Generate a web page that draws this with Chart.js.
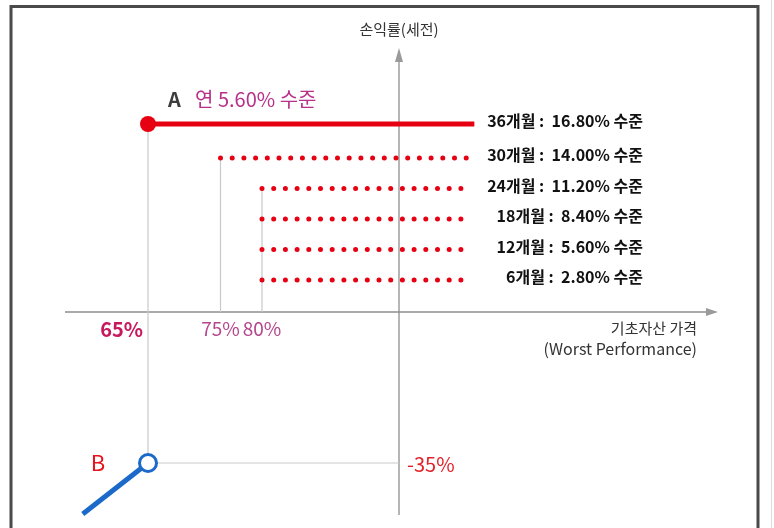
<!DOCTYPE html>
<html>
<head>
<meta charset="utf-8">
<script src="https://cdn.jsdelivr.net/npm/chart.js@4.4.1/dist/chart.umd.min.js"></script>
<style>
  html, body { margin: 0; padding: 0; background: #fff; }
  #wrap { position: relative; width: 774px; height: 528px; }
</style>
</head>
<body>
<div id="wrap"><canvas id="c"></canvas></div>
<script>
// ---------------- data ----------------
const periods       = ['36개월', '30개월', '24개월', '18개월', '12개월', '6개월'];
const couponRates   = [16.80, 14.00, 11.20, 8.40, 5.60, 2.80];   // 손익률(%) at each redemption
const barrierPrices = [65, 75, 80, 80, 80, 80];                   // 기초자산 가격(%) where each line starts
const lineEndPrices = [111, 110.2, 110.2, 110.2, 110.2, 110.2];
const annualRate    = 5.60;
const lossPrices    = [56, 65];    // B: 손실 구간 (기초자산 가격)
const lossReturns   = [-44, -35];  // B: 손익률
const priceTicks    = [65, 75, 80];
const lossLabel     = -35;
const basePrice     = 100;

// ---------------- schematic (piecewise) scale ----------------
const W = 774, H = 528;
const KNOTS = {
  x: { values: [65, 75, 80, 100], dec: [148, 220.5, 262, 399].map(p => p / W) },
  y: { values: [-44, -35, 0, 2.8, 14, 16.8], dec: [514, 463, 312, 280, 158, 124].map(p => 1 - p / H) }
};
function interp(v, xs, ys) {
  let i = 1;
  while (i < xs.length - 1 && v > xs[i]) i++;
  const t = (v - xs[i - 1]) / (xs[i] - xs[i - 1]);
  return ys[i - 1] + t * (ys[i] - ys[i - 1]);
}
class PiecewiseScale extends Chart.LinearScale {
  getPixelForValue(value) {
    const k = KNOTS[this.axis];
    return this.getPixelForDecimal(interp(value, k.values, k.dec));
  }
  getValueForPixel(pixel) {
    const k = KNOTS[this.axis];
    return interp(this.getDecimalForPixel(pixel), k.dec, k.values);
  }
}
PiecewiseScale.id = 'piecewise';
PiecewiseScale.defaults = Chart.LinearScale.defaults;
Chart.register(PiecewiseScale);

// ---------------- datasets ----------------
const RED = '#e60012', BLUE = '#1b6ac9', GUIDE = '#c9c9c9';
const datasets = [];

// A: 36개월 solid line with marker
datasets.push({
  data: [{ x: barrierPrices[0], y: couponRates[0] }, { x: lineEndPrices[0], y: couponRates[0] }],
  borderColor: RED, borderWidth: 5, borderCapStyle: 'butt',
  pointRadius: [8, 0], pointBackgroundColor: RED, pointBorderColor: RED, pointBorderWidth: 0
});
// B: loss line with hollow marker
datasets.push({
  data: lossPrices.map((p, i) => ({ x: p, y: lossReturns[i] })),
  borderColor: BLUE, borderWidth: 5, borderCapStyle: 'butt',
  pointRadius: [0, 8.5], pointBackgroundColor: '#fff', pointBorderColor: BLUE, pointBorderWidth: 3
});
// dotted early-redemption lines
for (let i = 1; i < periods.length; i++) {
  datasets.push({
    data: [{ x: barrierPrices[i], y: couponRates[i] }, { x: lineEndPrices[i], y: couponRates[i] }],
    borderColor: RED, borderWidth: 5, borderDash: [0, 11.7], borderCapStyle: 'round',
    pointRadius: 0
  });
}
// guides
datasets.push({
  data: [{ x: barrierPrices[0], y: couponRates[0] }, { x: lossPrices[1], y: lossReturns[1] }],
  borderColor: GUIDE, borderWidth: 1.2, pointRadius: 0
});
datasets.push({
  data: [{ x: lossPrices[1], y: lossReturns[1] }, { x: basePrice, y: lossReturns[1] }],
  borderColor: GUIDE, borderWidth: 1.2, pointRadius: 0
});
[1, 2].forEach(i => datasets.push({
  data: [{ x: barrierPrices[i], y: couponRates[i] }, { x: barrierPrices[i], y: 0 }],
  borderColor: GUIDE, borderWidth: 1.2, pointRadius: 0
}));

// ---------------- plugins ----------------
const FONT = '"Noto Sans CJK KR", "Noto Sans", sans-serif';
const framePlugin = {
  id: 'frame',
  beforeDraw(chart) {
    const c = chart.ctx;
    c.save();
    c.strokeStyle = '#4a4a4a'; c.lineWidth = 3;
    c.beginPath(); c.moveTo(11, H); c.lineTo(11, 6.5); c.lineTo(758, 6.5); c.lineTo(758, H); c.stroke();
    c.strokeStyle = '#dcdcdc'; c.lineWidth = 1;
    c.beginPath(); c.moveTo(771.5, 0); c.lineTo(771.5, H); c.stroke();
    c.restore();
  },
  beforeDatasetsDraw(chart) {
    const c = chart.ctx, X = v => chart.scales.x.getPixelForValue(v), Y = v => chart.scales.y.getPixelForValue(v);
    const y0 = Y(0), x0 = X(basePrice);
    c.save();
    c.strokeStyle = '#8e8e8e'; c.fillStyle = '#9a9a9a'; c.lineWidth = 1.3;
    c.beginPath(); c.moveTo(65, y0); c.lineTo(708, y0); c.stroke();
    c.beginPath(); c.moveTo(718, y0); c.lineTo(706, y0 - 4); c.lineTo(706, y0 + 4); c.closePath(); c.fill();
    c.beginPath(); c.moveTo(x0, 515); c.lineTo(x0, 60); c.stroke();
    c.beginPath(); c.moveTo(x0, 48); c.lineTo(x0 - 4, 62); c.lineTo(x0 + 4, 62); c.closePath(); c.fill();
    c.restore();
  },
  afterDatasetsDraw(chart) {
    const c = chart.ctx, X = v => chart.scales.x.getPixelForValue(v), Y = v => chart.scales.y.getPixelForValue(v);
    const txt = (s, x, y, font, color, align) => {
      c.font = font; c.fillStyle = color; c.textAlign = align || 'left'; c.textBaseline = 'middle';
      c.fillText(s, x, y);
    };
    c.save();
    txt('손익률(세전)', X(basePrice), 29, '15px ' + FONT, '#333', 'center');
    const aY = Y(couponRates[0]) - 25;
    txt('A', X(barrierPrices[0]) + 20, aY, 'bold 20px ' + FONT, '#3c3c3c');
    txt('연 ' + annualRate.toFixed(2) + '% 수준', 195, aY, '20px ' + FONT, '#b8308a');
    periods.forEach((p, i) => {
      txt(p + ' :  ' + couponRates[i].toFixed(2) + '% 수준', 643, Y(couponRates[i]) - 3,
          'bold 16px ' + FONT, '#111', 'right');
    });
    const ty = Y(0) + 17;
    txt(priceTicks[0] + '%', X(priceTicks[0]) - 5, ty, 'bold 20px ' + FONT, '#c8175d', 'right');
    txt(priceTicks[1] + '%', X(priceTicks[1]), ty, '19px ' + FONT, '#b5468c', 'center');
    txt(priceTicks[2] + '%', X(priceTicks[2]), ty, '19px ' + FONT, '#b5468c', 'center');
    txt('기초자산 가격', 697, ty - 1, '15px ' + FONT, '#333', 'right');
    txt('(Worst Performance)', 697, ty + 20, '16px ' + FONT, '#333', 'right');
    txt('B', X(lossPrices[1]) - 50, Y(lossReturns[1]), '22px ' + FONT, '#e8141c', 'center');
    txt(lossLabel + '%', X(basePrice) + 8, Y(lossLabel) + 1, '20px ' + FONT, '#e2232b', 'left');
    c.restore();
  }
};

new Chart(document.getElementById('c'), {
  type: 'line',
  data: { datasets },
  options: {
    responsive: true, maintainAspectRatio: false, animation: false, events: [],
    layout: { padding: 0, autoPadding: false },
    plugins: { legend: { display: false }, tooltip: { enabled: false } },
    scales: {
      x: { type: 'piecewise', display: false, min: 40, max: 160 },
      y: { type: 'piecewise', display: false, min: -50, max: 30 }
    },
    elements: { line: { tension: 0, fill: false } }
  },
  plugins: [framePlugin]
});
</script>
</body>
</html>
